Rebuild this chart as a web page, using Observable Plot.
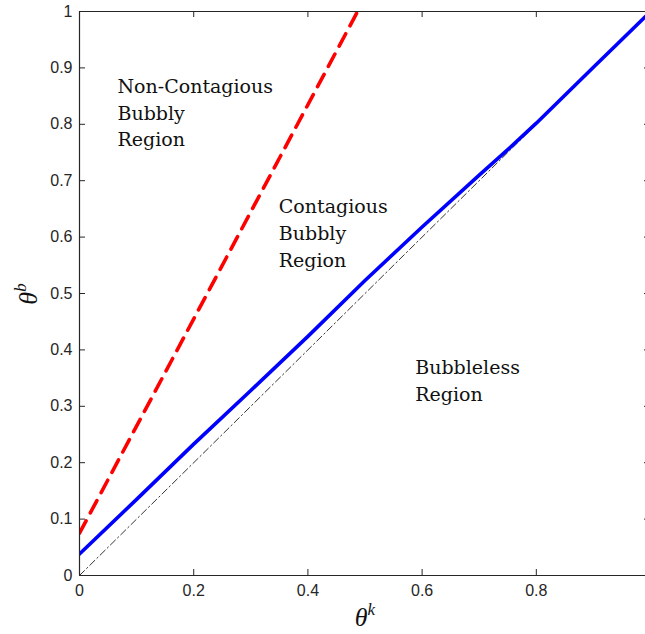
<!DOCTYPE html>
<html>
<head>
<meta charset="utf-8">
<script src="https://cdn.jsdelivr.net/npm/d3@7"></script>
<script src="https://cdn.jsdelivr.net/npm/@observablehq/plot@0.6"></script>
<style>
  html, body { margin: 0; padding: 0; background: #fff; }
  #chart { width: 645px; height: 634px; }
</style>
</head>
<body>
<div id="chart"></div>
<script>
// ---- data ----
const xTicks = [0, 0.2, 0.4, 0.6, 0.8];
const yTicks = [0, 0.1, 0.2, 0.3, 0.4, 0.5, 0.6, 0.7, 0.8, 0.9, 1];

const blueX = [0, 0.1, 0.2, 0.3, 0.4, 0.5, 0.6, 0.7, 0.75, 0.8, 0.9, 1.0];
const blueY = [0.038, 0.135, 0.233, 0.328, 0.424, 0.523, 0.618, 0.710, 0.755, 0.802, 0.901, 1.0];

const redX = [0, 0.487];
const redY = [0.075, 1.0];

const diagX = [0, 1];
const diagY = [0, 1];

const annoText = ["Non-Contagious\nBubbly\nRegion", "Contagious\nBubbly\nRegion", "Bubbleless\nRegion"];
const annoX = [0.0665, 0.349, 0.588];
const annoY = [0.889, 0.676, 0.390];

// ---- layout ----
const W = 645, H = 634;
const mL = 79, mR = 0, mT = 11, mB = 59;
const innerW = W - mL - mR, innerH = H - mT - mB;
const xMax = 0.9912;
const axisColor = "#262626";
const fmt = d => String(d);

const blue = blueX.map((x, i) => ({x, y: blueY[i]}));
const red = redX.map((x, i) => ({x, y: redY[i]}));
const diag = diagX.map((x, i) => ({x, y: diagY[i]}));
const anno = annoText.map((t, i) => ({t, x: annoX[i], y: annoY[i]}));

const chart = Plot.plot({
  width: W, height: H,
  marginLeft: mL, marginRight: mR, marginTop: mT, marginBottom: mB,
  x: {domain: [0, xMax]},
  y: {domain: [0, 1]},
  style: {fontFamily: "'Liberation Sans', Arial, sans-serif", fontSize: "16px", color: axisColor, background: "#fff"},
  marks: [
    Plot.line(diag, {x: "x", y: "y", stroke: "black", strokeWidth: 0.8, strokeDasharray: "7,3,1.5,3", clip: true}),
    Plot.line(red, {x: "x", y: "y", stroke: "#ff0000", strokeWidth: 3.6, strokeDasharray: "14,9", clip: true}),
    Plot.line(blue, {x: "x", y: "y", stroke: "#0000ff", strokeWidth: 3.6, clip: true}),
    Plot.text(anno, {x: "x", y: "y", text: "t", textAnchor: "start", lineAnchor: "top", lineHeight: 1.405,
      fontFamily: "'DejaVu Serif', serif", fontSize: 19, fill: "#111"}),
    // frame
    Plot.ruleX([0], {stroke: axisColor, strokeWidth: 1.2}),
    Plot.ruleY([0], {stroke: axisColor, strokeWidth: 1.2}),
    Plot.ruleY([1], {stroke: axisColor, strokeWidth: 1.2}),
    // inward ticks
    Plot.tickX(xTicks, {x: d => d, insetTop: innerH - 6, stroke: axisColor}),
    Plot.tickX(xTicks, {x: d => d, insetBottom: innerH - 6, stroke: axisColor}),
    Plot.tickY(yTicks, {y: d => d, insetRight: innerW - 6, stroke: axisColor}),
    Plot.tickY(yTicks, {y: d => d, insetLeft: innerW - 1, stroke: axisColor}),
    // tick labels
    Plot.axisX(xTicks, {tickSize: 0, tickPadding: 9, fontSize: 16, tickFormat: fmt, label: null}),
    Plot.axisY(yTicks, {tickSize: 0, tickPadding: 7, fontSize: 16, tickFormat: fmt, label: null})
  ]
});

const svg = d3.select(chart);
// x axis label θ^k
const xl = svg.append("text")
  .attr("x", mL + innerW / 2 + 3).attr("y", H - 8)
  .attr("text-anchor", "middle")
  .attr("font-family", "'Liberation Serif', 'DejaVu Serif', serif")
  .attr("font-style", "italic").attr("fill", "#111");
xl.append("tspan").attr("font-size", 26).text("θ");
xl.append("tspan").attr("font-size", 17).attr("dy", -11).text("k");

// y axis label θ^b
const yl = svg.append("text")
  .attr("transform", `translate(37,${mT + innerH / 2 + 1}) rotate(-90)`)
  .attr("text-anchor", "middle")
  .attr("font-family", "'Liberation Serif', 'DejaVu Serif', serif")
  .attr("font-style", "italic").attr("fill", "#111");
yl.append("tspan").attr("font-size", 26).text("θ");
yl.append("tspan").attr("font-size", 17).attr("dy", -11).text("b");

document.getElementById("chart").appendChild(chart);
</script>
</body>
</html>
